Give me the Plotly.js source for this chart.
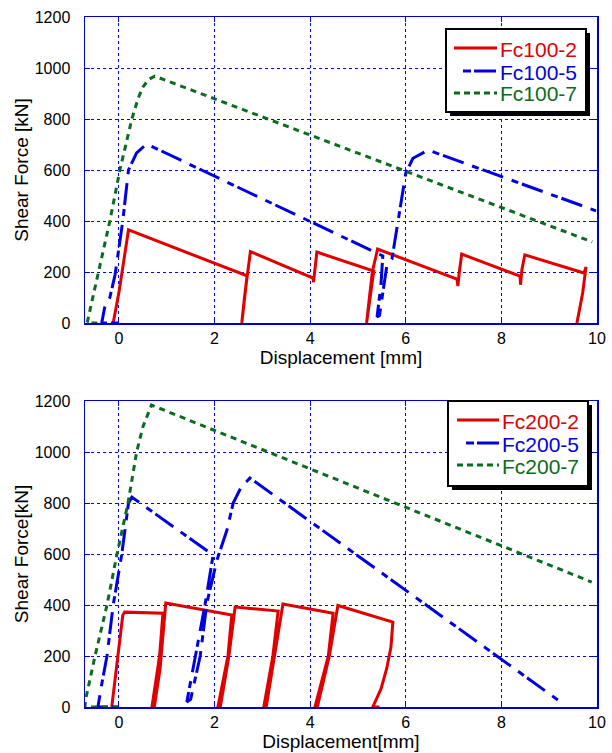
<!DOCTYPE html>
<html>
<head>
<meta charset="utf-8">
<script src="https://cdn.plot.ly/plotly-3.0.1.min.js"></script>
<style>html,body{margin:0;padding:0;background:#fff;}</style>
</head>
<body>
<div id="chart" style="width:612px;height:753px;"></div>
<script>
// ---------- data ----------
const fc100_2_x = [-0.12, 0.0, 0.2, 2.68, 2.62, 2.57, 2.66, 2.75, 4.06, 4.07, 4.14, 5.33, 5.25, 5.18, 5.30, 5.41, 7.07, 7.09, 7.12, 7.17, 8.39, 8.40, 8.43, 8.49, 9.73, 9.77, 9.70, 9.58];
const fc100_2_y = [0, 120, 365, 185, 90, 0, 150, 280, 176, 160, 278, 204, 100, 0, 200, 290, 172, 145, 200, 270, 184, 150, 210, 267, 196, 220, 118, 0];

const fc100_5_x = [-0.02, -0.36, -0.30, -0.19, -0.08, 0.08, 0.20, 0.37, 0.58, 5.52, 5.48, 5.43, 5.40, 5.45, 5.52, 5.60, 5.71, 5.88, 6.00, 6.15, 6.47, 9.98];
const fc100_5_y = [0, 0, 60, 100, 190, 400, 600, 667, 702, 263, 150, 60, 24, 30, 120, 220, 250, 455, 588, 646, 678, 440];

const fc100_7_x = [-0.45, -0.67, -0.66, -0.43, -0.19, 0.02, 0.27, 0.40, 0.50, 0.62, 0.75, 9.90];
const fc100_7_y = [0, 0, 5, 200, 400, 600, 800, 880, 925, 955, 968, 318];

const fc200_2_x = [-0.15, 0.08, 0.12, 0.92, 0.85, 0.69, 0.74, 0.86, 0.98, 2.36, 2.28, 2.07, 2.12, 2.30, 2.43, 3.33, 3.22, 3.03, 3.08, 3.25, 3.43, 4.48, 4.38, 4.10, 4.15, 4.40, 4.58, 5.73, 5.69, 5.60, 5.48, 5.31, 5.45];
const fc200_2_y = [0, 360, 372, 368, 200, 0, 0, 150, 408, 361, 200, 0, 0, 200, 392, 376, 200, 0, 0, 200, 404, 368, 200, 0, 0, 200, 398, 333, 235, 150, 70, 0, 0];

const fc200_5_x = [0.0, -0.44, -0.35, -0.25, -0.12, 0.06, 0.20, 0.27, 1.97, 1.80, 1.60, 1.42, 1.50, 1.70, 1.84, 2.05, 2.26, 2.39, 2.55, 2.74, 9.20];
const fc200_5_y = [0, 0, 100, 200, 400, 600, 800, 823, 596, 400, 200, 20, 30, 200, 408, 576, 694, 800, 860, 898, 25];

const fc200_7_x = [0.0, -0.71, -0.70, -0.50, -0.25, -0.04, 0.19, 0.37, 0.50, 0.68, 9.89];
const fc200_7_y = [0, 0, 27, 200, 400, 600, 800, 1000, 1098, 1184, 490];

const xTicks = [0, 2, 4, 6, 8, 10];
const yTicks = [0, 200, 400, 600, 800, 1000, 1200];
const names1 = ['Fc100-2', 'Fc100-5', 'Fc100-7'];
const names2 = ['Fc200-2', 'Fc200-5', 'Fc200-7'];

// ---------- styling ----------
const RED = '#e00000', BLUE = '#0000e0', GREEN = '#0b6b1e';
const FONT = 'Liberation Sans, Arial, sans-serif';
const styles = [
  {color: RED, width: 3, dash: 'solid'},
  {color: BLUE, width: 3, dash: '7px,4px,22px,9px'},
  {color: GREEN, width: 3, dash: '6px,5px'}
];
const legendDash = ['solid', '8px,3px,22px,3px', '6px,4px'];
const colors = [RED, BLUE, GREEN];

function mk(x, y, i, name, xa, ya) {
  return {
    x: x, y: y, type: 'scatter', mode: 'lines',
    line: styles[i], xaxis: xa, yaxis: ya,
    name: name, showlegend: false, hoverinfo: 'skip'
  };
}

const traces = [
  mk(fc100_2_x, fc100_2_y, 0, names1[0], 'x', 'y'),
  mk(fc100_5_x, fc100_5_y, 1, names1[1], 'x', 'y'),
  mk(fc100_7_x, fc100_7_y, 2, names1[2], 'x', 'y'),
  mk(fc200_2_x, fc200_2_y, 0, names2[0], 'x2', 'y2'),
  mk(fc200_5_x, fc200_5_y, 1, names2[1], 'x2', 'y2'),
  mk(fc200_7_x, fc200_7_y, 2, names2[2], 'x2', 'y2')
];

const ML = 85, MR = 15, MT = 17, MB = 46, W = 612, H = 753;
const PW = W - ML - MR, PH = H - MT - MB;
const px = v => (v - ML) / PW;
const py = v => (H - MB - v) / PH;

function xa(title, anchor) {
  return {
    range: [-0.71, 10], tickvals: xTicks, ticktext: xTicks.map(String), domain: [0, 1],
    showline: true, linecolor: '#0000cc', linewidth: 1.5, mirror: 'ticks',
    ticks: 'inside', ticklen: 5, tickcolor: '#0000cc',
    showgrid: true, gridcolor: '#0000ff', griddash: 'dot', gridwidth: 1,
    zeroline: false, anchor: anchor,
    tickfont: {family: FONT, size: 16, color: '#000'},
    title: {text: title, font: {family: FONT, size: 19, color: '#000'}, standoff: 2}
  };
}
function ya(title, dom, anchor) {
  return {
    range: [0, 1200], tickvals: yTicks, ticktext: yTicks.map(String), domain: dom,
    showline: true, linecolor: '#0000cc', linewidth: 1.5, mirror: 'ticks',
    ticks: 'inside', ticklen: 5, tickcolor: '#0000cc',
    showgrid: true, gridcolor: '#0000ff', griddash: 'dot', gridwidth: 1,
    zeroline: false, anchor: anchor, ticklabelstandoff: 10,
    tickfont: {family: FONT, size: 16, color: '#000'},
    title: {text: title, font: {family: FONT, size: 19, color: '#000'}, standoff: 1}
  };
}

// manual legend boxes (MATLAB style with drop shadow)
const shapes = [], annotations = [];
function legendBox(l, t, r, b, rowsY, lineX0, lineX1, blueX0, textX, names) {
  shapes.push({type: 'rect', xref: 'paper', yref: 'paper', layer: 'above',
    x0: px(l + 4), x1: px(r + 4), y0: py(b + 4), y1: py(t + 4),
    fillcolor: '#000', line: {width: 0}});
  shapes.push({type: 'rect', xref: 'paper', yref: 'paper', layer: 'above',
    x0: px(l), x1: px(r), y0: py(b), y1: py(t),
    fillcolor: '#fff', line: {color: '#000', width: 2}});
  for (let i = 0; i < 3; i++) {
    shapes.push({type: 'line', xref: 'paper', yref: 'paper', layer: 'above',
      x0: px(i === 1 ? blueX0 : lineX0), x1: px(lineX1), y0: py(rowsY[i]), y1: py(rowsY[i]),
      line: {color: colors[i], width: 3, dash: legendDash[i]}});
    annotations.push({xref: 'paper', yref: 'paper', x: px(textX), y: py(rowsY[i] + 1),
      xanchor: 'left', yanchor: 'middle', showarrow: false, text: names[i],
      font: {family: FONT, size: 21, color: colors[i]}});
  }
}
legendBox(446, 29, 586, 112, [48, 71, 93], 454, 497, 463, 498, names1);
legendBox(448, 401, 588, 486, [420, 443, 465], 457, 499, 466, 500, names2);

const layout = {
  width: W, height: H, margin: {l: ML, r: MR, t: MT, b: MB},
  paper_bgcolor: '#fff', plot_bgcolor: '#fff', showlegend: false,
  font: {family: FONT, color: '#000'},
  xaxis: xa('Displacement [mm]', 'y'),
  yaxis: ya('Shear Force [kN]', [py(323), py(17)], 'x'),
  xaxis2: xa('Displacement[mm]', 'y2'),
  yaxis2: ya('Shear Force[kN]', [0, py(401)], 'x2'),
  shapes: shapes, annotations: annotations
};

Plotly.newPlot('chart', traces, layout, {staticPlot: true, displayModeBar: false});
</script>
</body>
</html>
